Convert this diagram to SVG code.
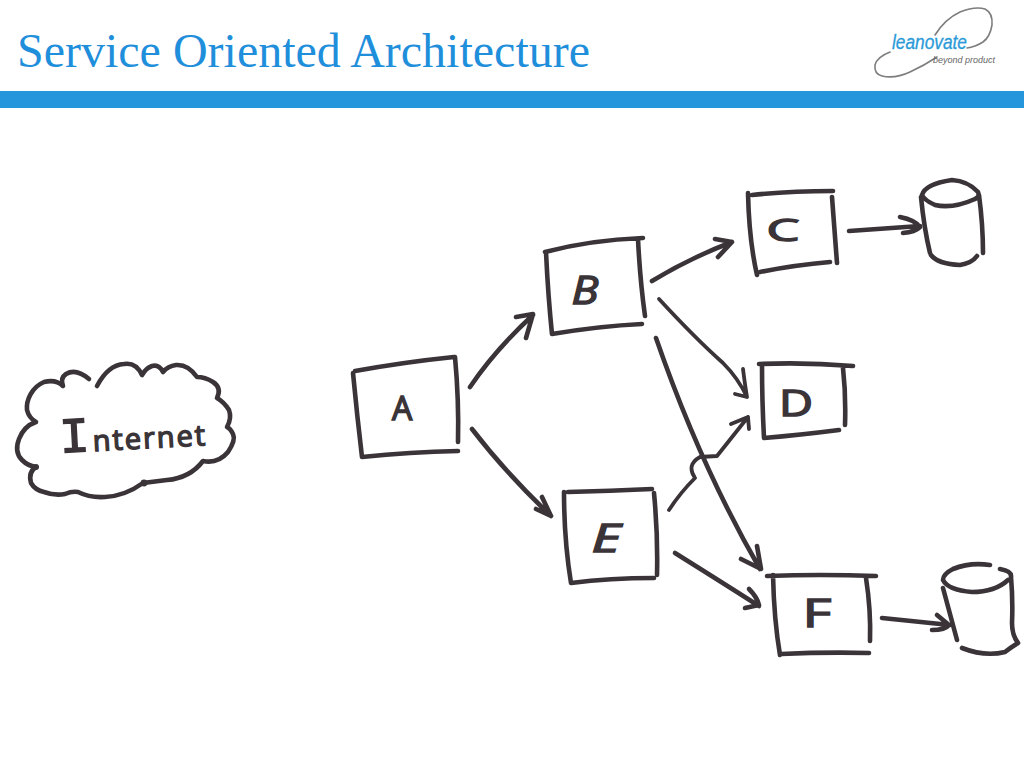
<svg xmlns="http://www.w3.org/2000/svg" width="1024" height="768" viewBox="0 0 1024 768">
<style>
.ink{fill:none;stroke:#3a3438;stroke-width:4.6;stroke-linecap:round;stroke-linejoin:round}
.thin{stroke-width:3.8}
.lab{font-family:"Open Sans","Liberation Sans",sans-serif;fill:#3a3438;stroke:#3a3438;stroke-width:1.4;text-anchor:middle}
.logo{fill:none;stroke:#7d7d7d;stroke-width:1.6;stroke-linecap:round}
</style>
<rect width="1024" height="768" fill="#ffffff"/>
<g id="header">
<text x="17" y="67" font-family="'Liberation Serif','Times New Roman',serif" font-size="48" fill="#1f8fdc" textLength="573">Service Oriented Architecture</text>
<rect x="0" y="91" width="1024" height="17" fill="#2596dc"/>
</g>
<g id="logo">
<path class="logo" d="M935 35Q945 19 960 12Q975 6 985 9Q993 13 992 25Q990 37 983 42Q975 47 967 48"/>
<path class="logo" d="M890 52Q877 57 875 65Q874 74 882 76Q895 79 910 72Q925 65 937 57"/>
<text x="892" y="49" font-family="'Liberation Sans',Arial,sans-serif" font-style="italic" font-size="20" fill="#2a9ad8" stroke="#2a9ad8" stroke-width="0.3" textLength="75" lengthAdjust="spacingAndGlyphs">leanovate</text>
<text x="933" y="62.5" font-family="'Liberation Sans',Arial,sans-serif" font-style="italic" font-size="9.5" fill="#666666" textLength="62" lengthAdjust="spacingAndGlyphs">beyond product</text>
</g>
<g id="internet">
<path class="ink" d="M89 379Q76 368 66 374Q60 378 63 386Q56 379 44 382C32 387 26 400 27 410Q29 418 36 422Q24 426 19 439Q14 452 22 460Q28 466 36 467Q28 472 31 483Q35 490 44 492Q55 496 65 494Q72 491 78 492Q90 498 105 497Q125 496 143 483L167 480Q190 478 203 461Q218 464 228 452Q236 440 233 434Q230 428 227 427Q232 418 229 410Q224 402 217 398Q222 388 213 382Q205 377 197 377Q188 364 176 365Q168 366 163 372Q159 364 152 366Q146 368 142 375Q136 362 124 364Q108 365 97 386"/>
<circle cx="36" cy="467" r="3" fill="#3a3438"/>
<circle cx="144" cy="483" r="3.4" fill="#3a3438"/>
<text class="lab" style="text-anchor:start" x="60" y="449" font-size="29" letter-spacing="2" transform="rotate(-3 134 447)"><tspan font-family="'Liberation Mono',monospace" font-size="50">I</tspan><tspan x="93">nternet</tspan></text>
</g>
<g id="node-a">
<path class="ink" d="M355 371Q405 362 454 357M353 373Q357 415 362 457Q410 452 458 451M455 357Q459 400 458 442"/>
<text class="lab" x="402" y="420" font-size="32">A</text>
</g>
<g id="node-b">
<path class="ink" d="M545 252Q590 240 643 238M546 252Q548 295 552 334Q600 326 642 324M638 239Q640 280 645 316"/>
<text class="lab" x="585" y="304" font-size="38" font-style="italic" textLength="27" lengthAdjust="spacingAndGlyphs">B</text>
</g>
<g id="node-c">
<path class="ink" d="M752 195Q790 191 833 191M748 193Q749 240 757 275M760 272Q795 265 830 262M832 197Q835 235 837 263"/>
<text class="lab" x="783" y="241" font-size="31" textLength="33" lengthAdjust="spacingAndGlyphs">C</text>
</g>
<g id="node-d">
<path class="ink" d="M759 364Q805 362 853 366M762 365Q762 400 764 438Q800 435 839 430M843 368Q846 395 845 425"/>
<text class="lab" x="796" y="416" font-size="36" textLength="34" lengthAdjust="spacingAndGlyphs">D</text>
</g>
<g id="node-e">
<path class="ink" d="M568 492Q610 491 652 489M564 492Q564 540 571 583Q610 578 654 578M654 493Q658 535 657 575"/>
<text class="lab" x="606" y="552" font-size="38" font-style="italic" textLength="29" lengthAdjust="spacingAndGlyphs">E</text>
</g>
<g id="node-f">
<path class="ink" d="M767 576Q820 574 876 576M773 575Q774 620 780 655M781 654Q825 652 869 653M866 578Q871 610 870 641"/>
<text class="lab" x="817" y="627" font-size="38" textLength="29" lengthAdjust="spacingAndGlyphs">F</text>
</g>
<g id="store-c">
<path class="ink" d="M922 195Q925 184 952 180Q968 181 978 192Q980 197 975 199Q953 209 935 205Q924 200 922 195M921 197Q924 228 930 253M979 195Q983 225 983 253M931 255Q938 264 960 265Q972 263 977 256"/>
</g>
<g id="store-f">
<path class="ink" d="M990 565Q970 562 953 569Q943 574 943 580Q948 590 972 592Q995 592 1008 580M1000 569Q1012 571 1011 577Q1013 600 1012 623Q1012 635 1018 643Q1010 648 1005 652Q985 657 962 648M943 588L957 640"/>
</g>
<g id="connectors">
<path class="ink" d="M470 387Q495 350 533 315M516 317L533 314L526 338"/>
<path class="ink" d="M472 429Q505 472 551 516M542 497L551 516L536 509"/>
<path class="ink" d="M652 281Q690 258 732 242M715 239L732 242L718 257"/>
<path class="ink thin" d="M659 299Q695 338 723 363Q738 378 747 397M743 369Q745 385 747 397L735 394"/>
<path class="ink" d="M656 338Q700 465 760 569M757 546L761 569L741 559"/>
<path class="ink thin" d="M669 510Q680 493 695 478Q686 465 700 457L717 456L748 417M731 424L748 417L749 429"/>
<path class="ink" d="M675 553Q715 578 759 606M749 589Q757 597 759 605L745 608"/>
<path class="ink" d="M849 231L920 226M900 217Q915 220 920 227Q915 232 903 233"/>
<path class="ink" d="M882 618L950 625M937 615L949 625Q945 630 932 630"/>
</g>
</svg>
